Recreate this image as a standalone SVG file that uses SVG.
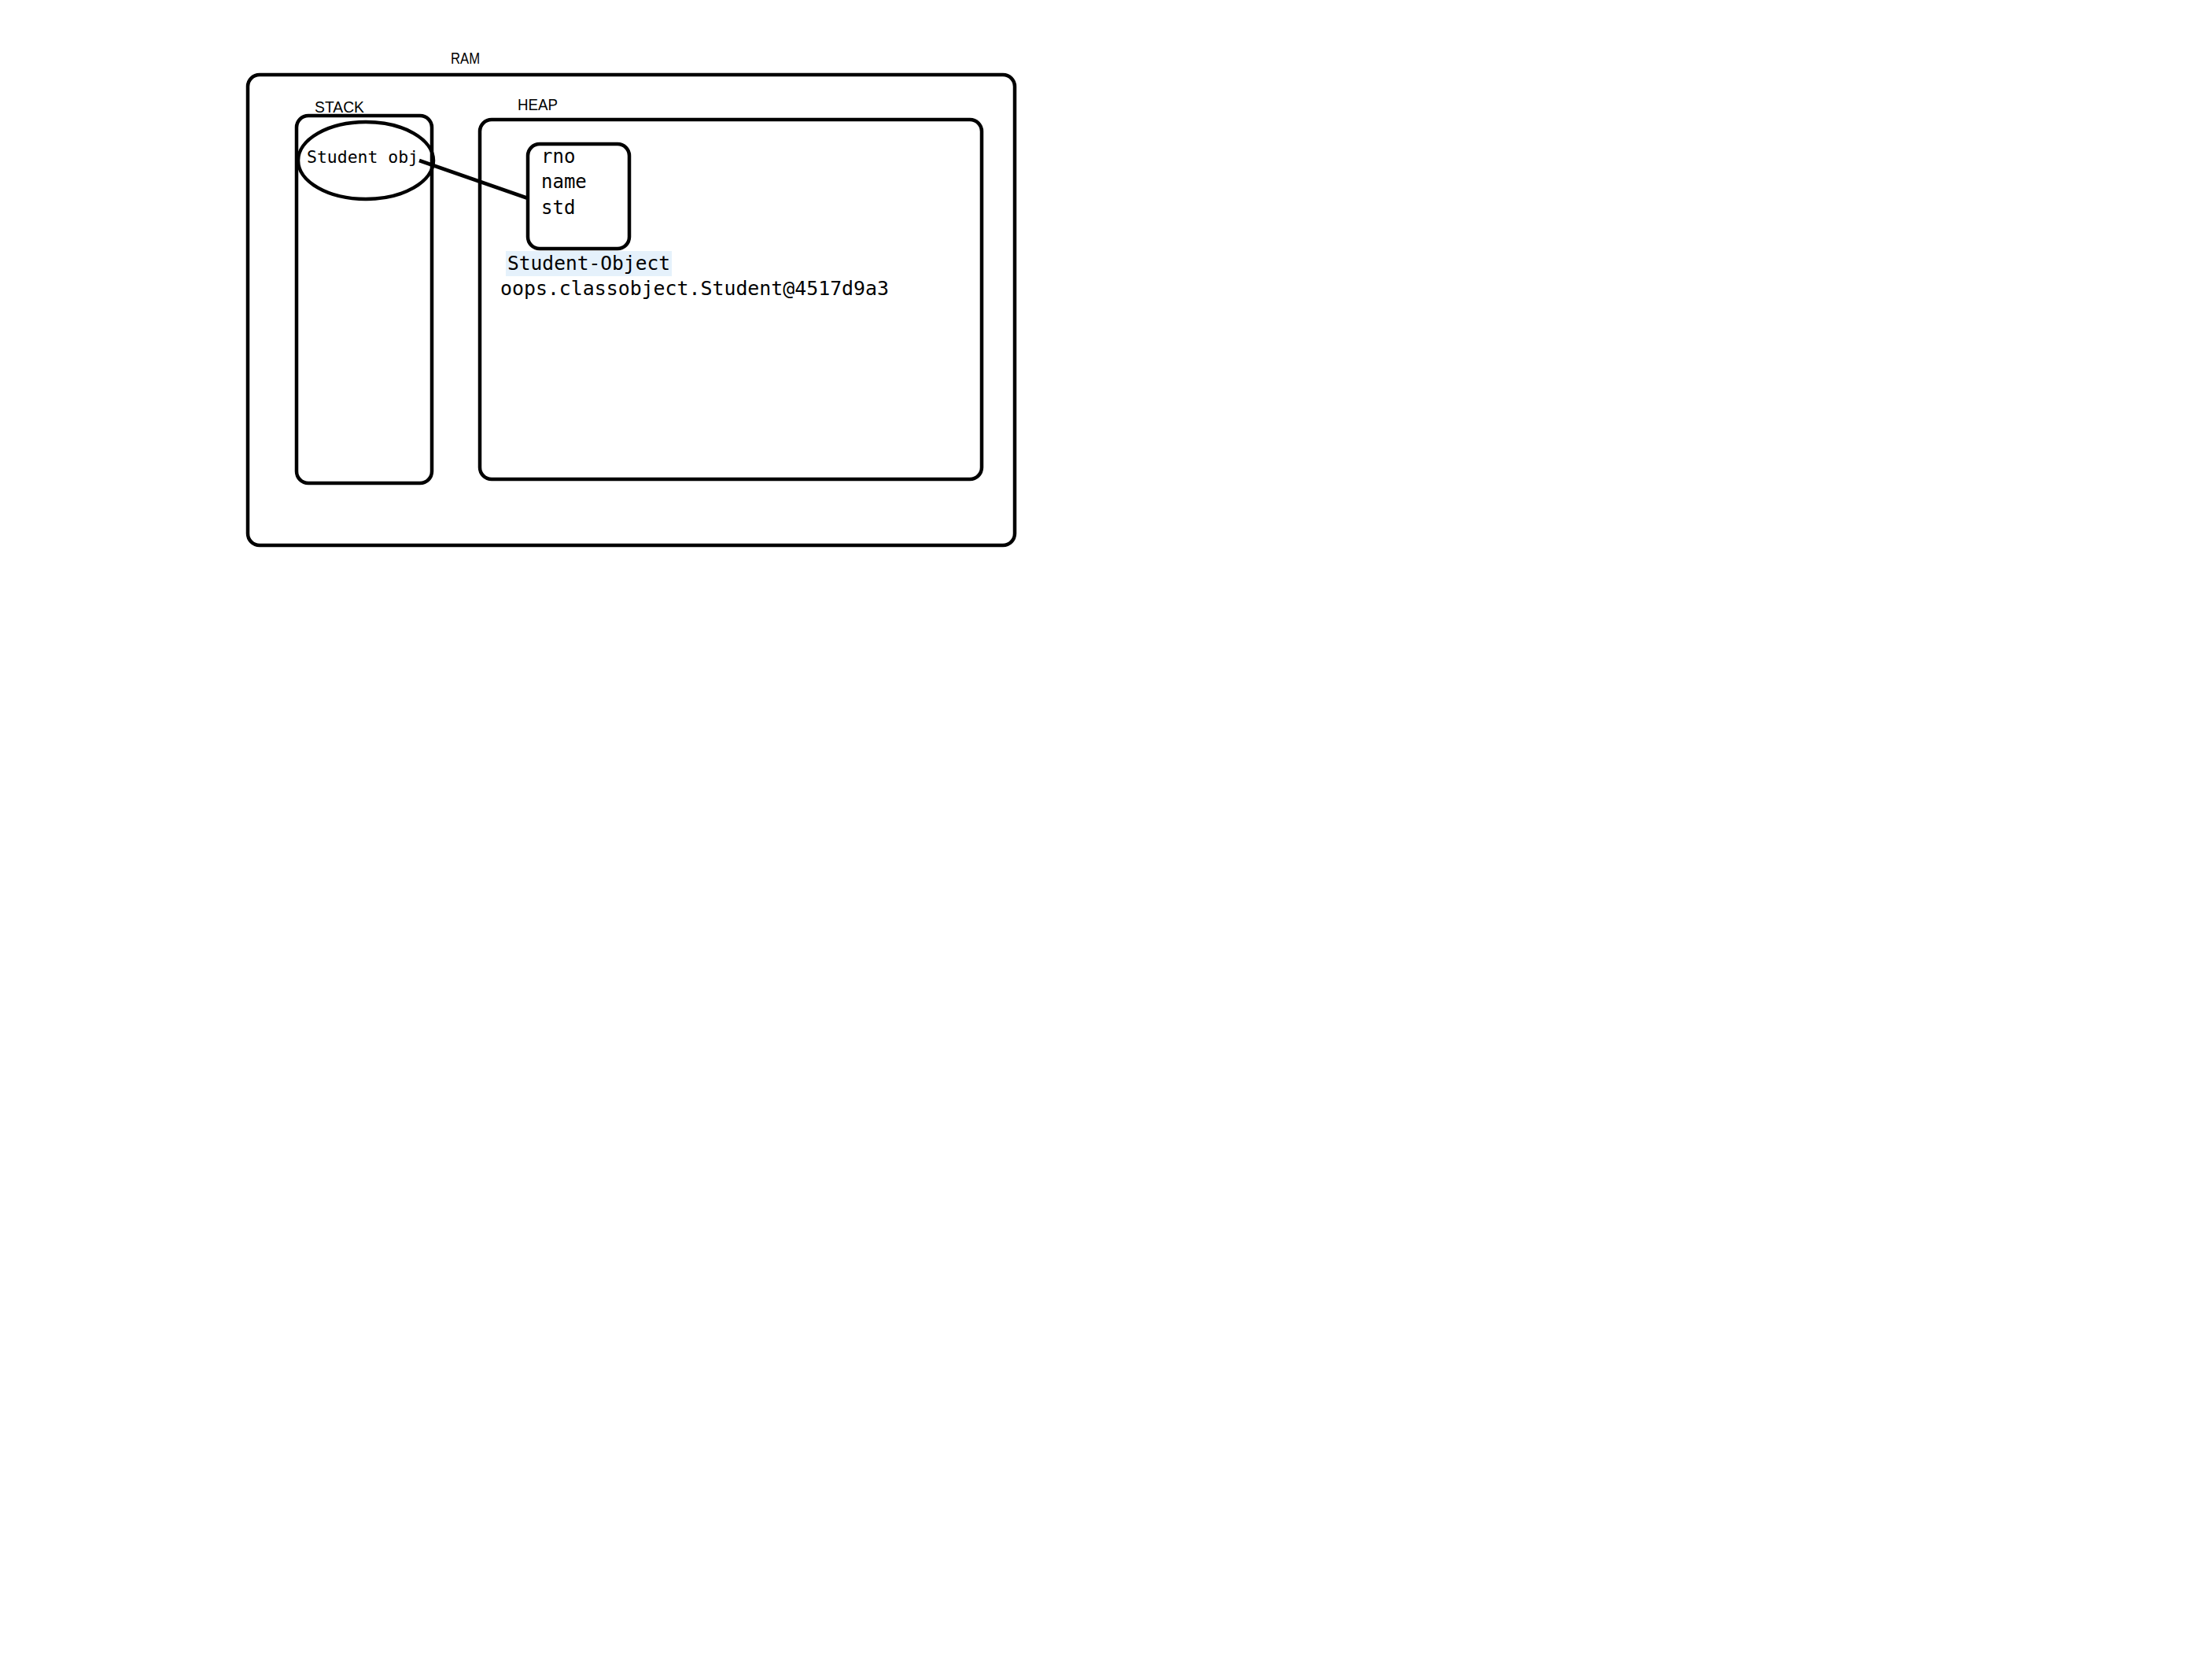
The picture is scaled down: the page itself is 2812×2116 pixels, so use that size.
<svg xmlns="http://www.w3.org/2000/svg" width="2812" height="2116" viewBox="0 0 2812 2116">
<style>
.box{fill:none;stroke:#000;stroke-width:4.5}
.lbl{font-family:"Liberation Sans",Arial,sans-serif;font-size:20px;fill:#000}
.mono{font-family:"DejaVu Sans Mono","Liberation Mono",monospace;fill:#000}
</style>
<rect width="2812" height="2116" fill="#fff"/>
<g id="ram">
<rect class="box" x="315" y="95" width="975" height="598" rx="15"/>
<text class="lbl" x="573" y="81" textLength="37" lengthAdjust="spacingAndGlyphs">RAM</text>
</g>
<g id="stack">
<rect class="box" x="377" y="147" width="172" height="467" rx="15"/>
<text class="lbl" x="400" y="143" textLength="63" lengthAdjust="spacingAndGlyphs">STACK</text>
</g>
<g id="heap">
<rect class="box" x="610" y="152" width="638" height="457" rx="15"/>
<text class="lbl" x="658" y="140" textLength="51" lengthAdjust="spacingAndGlyphs">HEAP</text>
</g>
<g id="student-ref">
<ellipse class="box" cx="465" cy="204" rx="86" ry="49"/>
<text class="mono" x="390" y="207" font-size="21.5" textLength="142" lengthAdjust="spacingAndGlyphs">Student obj</text>
</g>
<g id="student-object">
<rect class="box" x="671" y="183" width="129" height="133" rx="15"/>
<text class="mono" x="688" y="207" font-size="24">rno</text>
<text class="mono" x="688" y="239" font-size="24">name</text>
<text class="mono" x="688" y="272" font-size="24">std</text>
<rect x="643" y="319" width="211" height="32" fill="#E5F1FB"/>
<text class="mono" x="645" y="343" font-size="24" textLength="207" lengthAdjust="spacingAndGlyphs">Student-Object</text>
<text class="mono" x="636" y="375" font-size="24" textLength="494" lengthAdjust="spacingAndGlyphs">oops.classobject.Student@4517d9a3</text>
</g>
<g id="connectors">
<line x1="533" y1="204" x2="671" y2="252" stroke="#000" stroke-width="4.5"/>
</g>
</svg>
